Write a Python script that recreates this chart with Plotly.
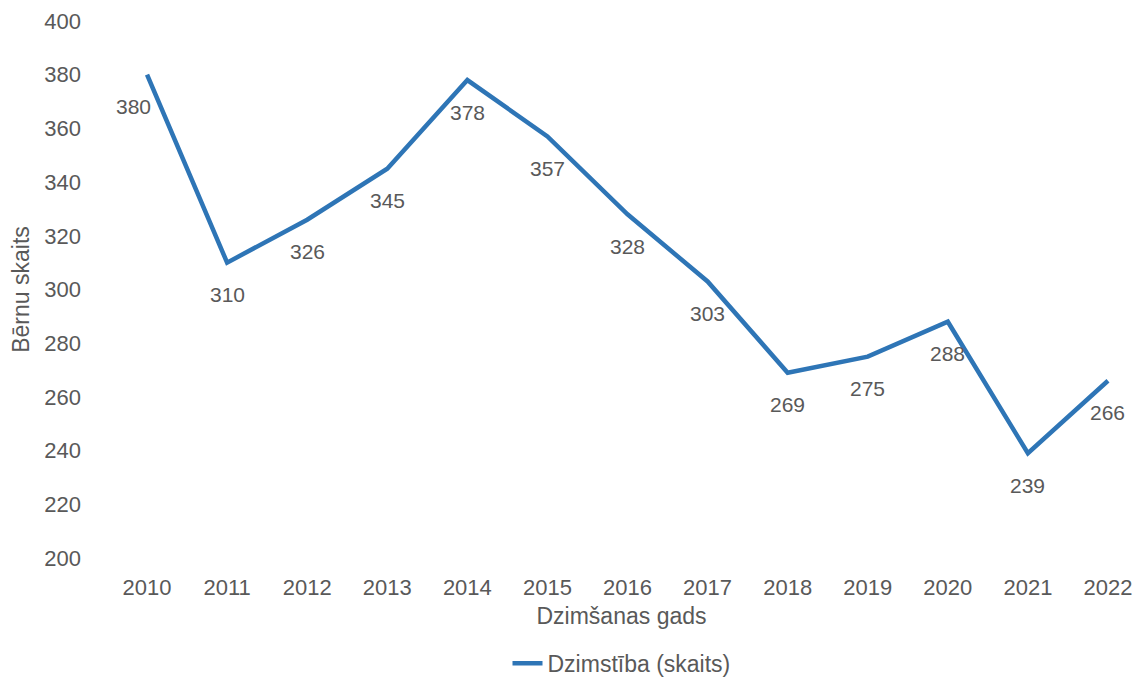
import plotly.graph_objects as go

years = [2010, 2011, 2012, 2013, 2014, 2015, 2016, 2017, 2018, 2019, 2020, 2021, 2022]
births = [380, 310, 326, 345, 378, 357, 328, 303, 269, 275, 288, 239, 266]
y_ticks = [200, 220, 240, 260, 280, 300, 320, 340, 360, 380, 400]

FONT = "Liberation Sans, Arial, sans-serif"
GRAY = "#595959"
BLUE = "#2E75B6"

fig = go.Figure()
fig.add_trace(go.Scatter(
    x=years, y=births, mode="lines", name="Dzimstība (skaits)",
    line=dict(color=BLUE, width=4.5),
))

for i, (x, y) in enumerate(zip(years, births)):
    fig.add_annotation(
        x=x, y=y, text=str(y), showarrow=False,
        yshift=-32, xshift=(-14 if i == 0 else 0),
        font=dict(family=FONT, size=21, color=GRAY),
    )

fig.update_layout(
    width=1133, height=675,
    margin=dict(l=99, r=5, t=13, b=125, autoexpand=False),
    paper_bgcolor="white", plot_bgcolor="white",
    font=dict(family=FONT, size=22, color=GRAY),
    showlegend=True,
    legend=dict(orientation="h", x=0.5, xanchor="center", y=-0.196, yanchor="middle",
                font=dict(family=FONT, size=23, color=GRAY)),
    xaxis=dict(
        range=[2009.5, 2022.35], tickmode="array", tickvals=years,
        ticktext=[str(y) for y in years], showgrid=False, zeroline=False,
        showline=False, ticks="", ticklabelstandoff=14, automargin=False,
        ticklabeloverflow="allow",
        tickfont=dict(size=22, color=GRAY),
        title=dict(text="Dzimšanas gads", standoff=8, font=dict(size=23, color=GRAY)),
    ),
    yaxis=dict(
        range=[200, 400], tickmode="array", tickvals=y_ticks,
        showgrid=False, zeroline=False, showline=False, ticks="",
        ticklabelstandoff=25, automargin=False,
        ticklabeloverflow="allow",
        tickfont=dict(size=22, color=GRAY),
        title=dict(text="Bērnu skaits", standoff=8, font=dict(size=23, color=GRAY)),
    ),
)

fig.write_html("out.html")
